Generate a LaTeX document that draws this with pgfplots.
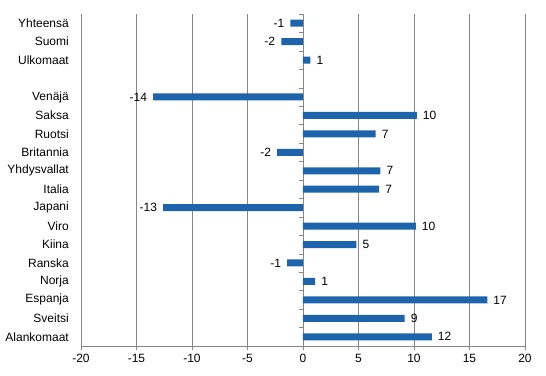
\documentclass[border=0pt]{standalone}
\usepackage{fontspec}
\setmainfont{Liberation Sans}
\usepackage{pgfplots}
\pgfplotsset{compat=1.18}
\definecolor{barblue}{RGB}{30,100,172}
\definecolor{gridgray}{RGB}{134,134,134}
\begin{document}
\fontsize{12bp}{14bp}\selectfont
\begin{tikzpicture}
\begin{axis}[
  name=ax,
  scale only axis,
  width=444bp, height=332bp,
  xmin=-20, xmax=20,
  ymin=-0.5, ymax=17.5,
  xbar, bar width=7bp, bar shift=0pt,
  axis x line=bottom,
  axis y line=left,
  y axis line style={draw=none},
  x axis line style={gridgray,-},
  xtick={-20,-15,...,20},
  xticklabels={-20,-15,-10,-5,0,5,10,15,20},
  xtick style={gridgray, thin},
  tick align=outside,
  major tick length=4bp,
  xmajorgrids,
  grid style={gridgray, thin},
  ytick={0,...,17},
  yticklabels={Alankomaat,Sveitsi,Espanja,Norja,Ranska,Kiina,Viro,Japani,Italia,Yhdysvallat,Britannia,Ruotsi,Saksa,Venäjä,{},Ulkomaat,Suomi,Yhteensä},
  ytick style={draw=none},
  yticklabel style={xshift=-4bp, font=\fontsize{12bp}{14bp}\selectfont},
  xticklabel style={font=\fontsize{12bp}{14bp}\selectfont},
  point meta=explicit symbolic,
  nodes near coords,
  clip=false,
]
\addplot[fill=barblue, draw=none,
  nodes near coords style={anchor=west, xshift=2bp, font=\fontsize{12bp}{14bp}\selectfont}]
  coordinates {
  (0.66,15) [1]
  (10.25,12) [10]
  (6.54,11) [7]
  (6.98,9) [7]
  (6.86,8) [7]
  (10.16,6) [10]
  (4.81,5) [5]
  (1.10,3) [1]
  (16.6,2) [17]
  (9.15,1) [9]
  (11.6,0) [12]
};
\addplot[fill=barblue, draw=none,
  nodes near coords style={anchor=east, xshift=-2bp, font=\fontsize{12bp}{14bp}\selectfont}]
  coordinates {
  (-1.13,17) [-1]
  (-1.95,16) [-2]
  (-13.5,13) [-14]
  (-2.33,10) [-2]
  (-12.6,7) [-13]
  (-1.42,4) [-1]
};
\pgfplotsinvokeforeach{-0.5,0.5,1.5,2.5,3.5,4.5,5.5,6.5,7.5,8.5,9.5,10.5,11.5,12.5,13.5,14.5,15.5,16.5,17.5}{
  \draw[gridgray, thin] (axis cs:0,#1) -- ([xshift=-4bp]axis cs:0,#1);
}
\end{axis}
\pgfresetboundingbox
\path (ax.south west) ++(-81bp,-30bp) coordinate (bbA);
\path (ax.north east) ++(21bp,14bp) coordinate (bbB);
\path[use as bounding box] (bbA) rectangle (bbB);
\end{tikzpicture}
\end{document}
